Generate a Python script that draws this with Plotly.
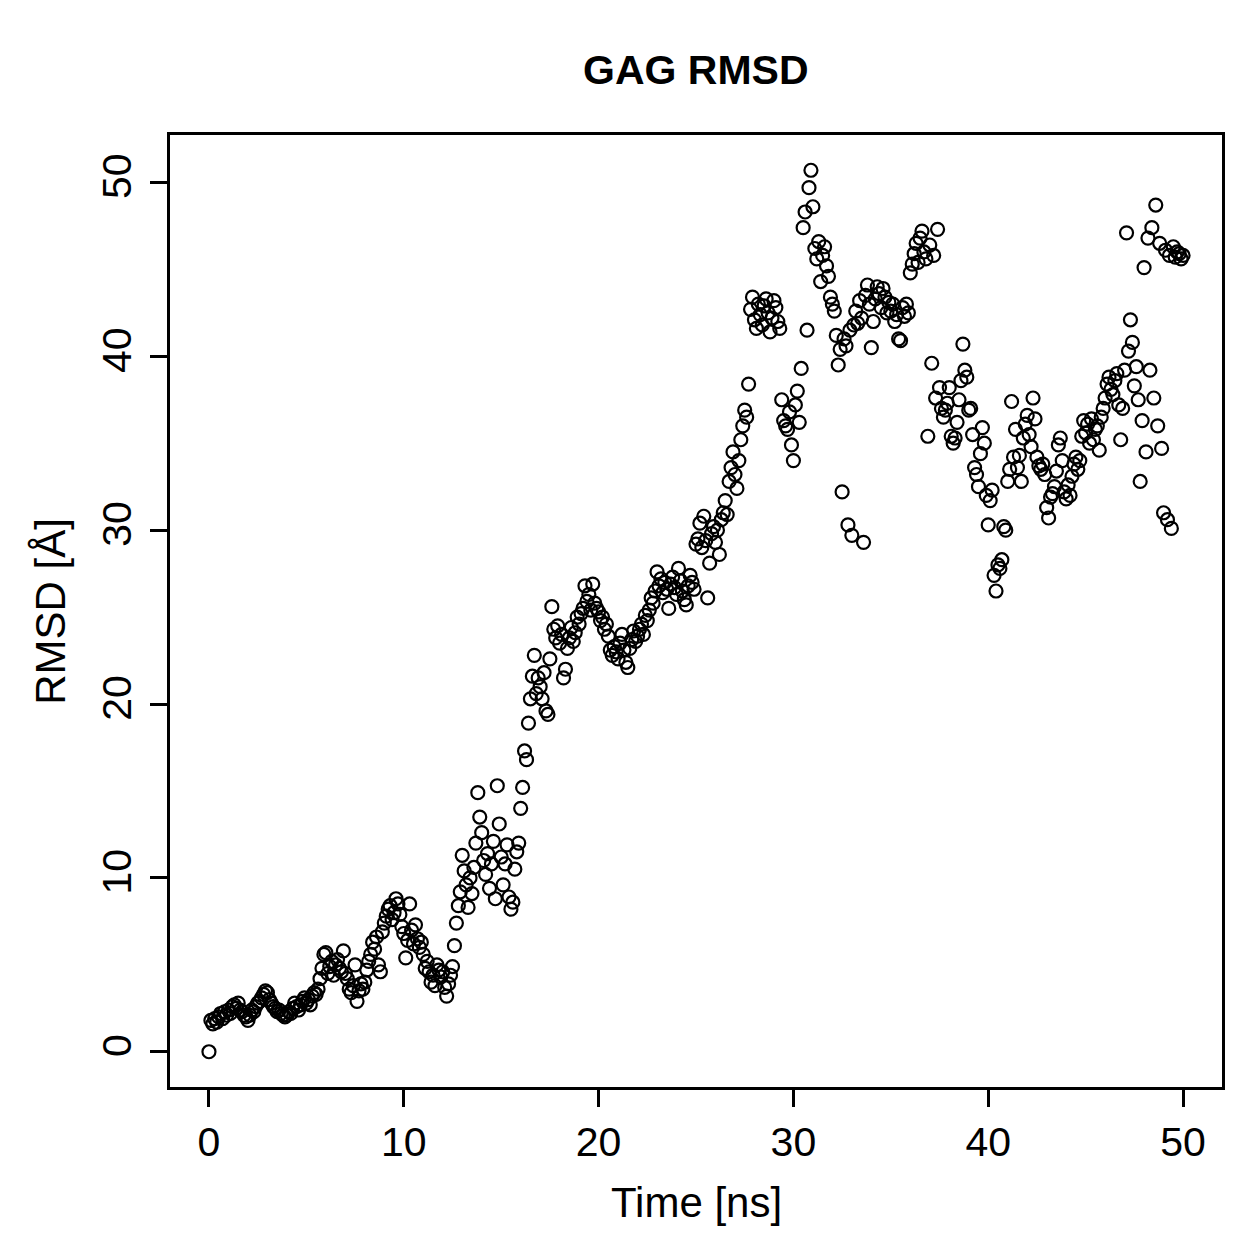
import plotly.graph_objects as go

# Sampling step (ns) and RMSD values (Å), one row per nanosecond
time_step_ns = 0.1
rmsd_rows = [
    [0.0, 1.8, 1.6, 1.9, 1.7, 2.0, 2.2, 1.9, 2.3, 2.1],
    [2.4, 2.2, 2.6, 2.7, 2.5, 2.8, 2.4, 2.3, 2.1, 2.0],
    [1.8, 2.1, 2.4, 2.3, 2.6, 2.8, 2.9, 3.1, 3.3, 3.5],
    [3.4, 3.0, 2.8, 2.6, 2.5, 2.3, 2.4, 2.2, 2.1, 2.0],
    [2.1, 2.3, 2.2, 2.5, 2.8, 2.6, 2.4, 2.7, 2.9, 3.1],
    [2.8, 3.0, 2.7, 3.2, 3.4, 3.3, 3.6, 4.2, 4.8, 5.6],
    [5.7, 4.5, 4.9, 5.2, 4.4, 5.0, 5.3, 4.8, 4.6, 5.8],
    [4.5, 4.2, 3.6, 3.4, 3.8, 5.0, 2.9, 3.5, 3.9, 3.6],
    [4.0, 4.7, 5.2, 5.6, 6.3, 5.9, 6.6, 5.0, 4.6, 6.9],
    [7.4, 7.8, 8.2, 8.4, 7.6, 8.0, 8.8, 8.5, 7.9, 7.2],
    [6.8, 5.4, 6.4, 8.5, 7.0, 6.2, 7.3, 6.5, 6.0, 6.3],
    [5.6, 4.8, 5.2, 4.6, 4.0, 4.4, 3.8, 5.0, 4.7, 4.3],
    [4.6, 3.7, 3.2, 3.9, 4.4, 4.9, 6.1, 7.4, 8.4, 9.2],
    [11.3, 10.4, 9.6, 8.3, 10.0, 9.1, 10.6, 12.0, 14.9, 13.5],
    [12.6, 11.0, 10.2, 11.4, 9.4, 10.8, 12.1, 8.8, 15.3, 13.1],
    [11.2, 9.6, 10.8, 11.9, 8.9, 8.2, 8.6, 10.5, 11.5, 12.0],
    [14.0, 15.2, 17.3, 16.8, 18.9, 20.3, 21.6, 22.8, 20.6, 21.5],
    [21.0, 20.3, 21.8, 19.6, 19.4, 22.6, 25.6, 24.3, 23.8, 24.5],
    [23.5, 24.0, 21.5, 22.0, 23.2, 23.8, 24.4, 23.6, 24.1, 25.0],
    [24.6, 25.2, 25.5, 26.8, 25.9, 26.3, 25.4, 26.9, 25.8, 25.5],
    [25.3, 24.8, 25.0, 24.3, 24.6, 23.9, 23.1, 22.8, 23.3, 23.0],
    [22.6, 23.5, 24.0, 23.1, 22.4, 22.1, 23.2, 23.7, 24.2, 23.6],
    [23.9, 24.3, 24.6, 24.0, 25.1, 24.8, 25.4, 26.1, 25.8, 26.5],
    [27.6, 26.8, 27.2, 26.4, 27.0, 26.6, 25.5, 26.9, 27.3, 26.7],
    [26.3, 27.8, 27.1, 26.5, 26.0, 25.7, 26.8, 27.4, 27.0, 26.6],
    [29.2, 29.5, 30.4, 29.0, 30.8, 29.4, 26.1, 28.1, 29.8, 30.2],
    [29.3, 30.0, 28.6, 30.6, 31.0, 31.7, 30.9, 32.8, 33.6, 34.5],
    [33.2, 32.4, 34.0, 35.2, 36.0, 36.9, 36.5, 38.4, 42.7, 43.4],
    [42.1, 41.6, 43.0, 42.4, 41.8, 42.9, 43.3, 42.5, 41.4, 42.2],
    [43.2, 42.8, 42.0, 41.6, 37.5, 36.3, 36.0, 35.8, 36.8, 34.9],
    [34.0, 37.2, 38.0, 36.2, 39.3, 47.4, 48.3, 41.5, 49.7, 50.7],
    [48.6, 46.2, 45.6, 46.6, 44.3, 45.8, 46.3, 45.2, 44.6, 43.4],
    [43.0, 42.6, 41.2, 39.5, 40.4, 32.2, 41.0, 40.6, 30.3, 41.5],
    [29.7, 41.8, 42.6, 41.9, 43.2, 42.2, 29.3, 43.5, 44.1, 43.0],
    [40.5, 42.0, 43.3, 44.0, 43.6, 42.8, 43.9, 43.4, 42.5, 43.1],
    [42.6, 43.0, 42.0, 42.4, 41.0, 40.9, 42.8, 42.3, 43.0, 42.5],
    [44.8, 45.3, 45.9, 46.5, 45.4, 46.8, 47.2, 46.0, 45.6, 35.4],
    [46.4, 39.6, 45.8, 37.6, 47.3, 38.2, 37.0, 36.5, 36.9, 37.3],
    [38.2, 35.4, 35.0, 35.3, 36.2, 37.5, 38.6, 40.7, 39.2, 38.8],
    [36.9, 37.0, 35.5, 33.6, 33.2, 32.5, 34.4, 35.9, 35.0, 32.0],
    [30.3, 31.7, 32.3, 27.4, 26.5, 28.0, 27.8, 28.3, 30.2, 30.0],
    [32.8, 33.5, 37.4, 34.2, 35.8, 33.6, 34.3, 32.8, 35.3, 36.1],
    [36.6, 35.5, 34.8, 37.6, 36.4, 34.2, 33.7, 33.5, 33.8, 33.2],
    [31.3, 30.7, 31.9, 32.1, 32.5, 33.4, 34.9, 35.3, 34.0, 32.2],
    [31.8, 32.6, 32.0, 33.1, 33.8, 34.2, 33.5, 34.0, 35.4, 36.3],
    [35.6, 36.1, 35.0, 36.4, 35.2, 35.8, 36.0, 34.6, 36.5, 37.0],
    [37.6, 38.4, 38.8, 38.1, 37.8, 38.6, 39.0, 37.2, 35.2, 37.0],
    [39.2, 47.1, 40.3, 42.1, 40.8, 38.3, 39.4, 37.5, 32.8, 36.3],
    [45.1, 34.5, 46.8, 39.2, 47.4, 37.6, 48.7, 36.0, 46.5, 34.7],
    [31.0, 46.1, 30.6, 45.8, 30.1, 46.3, 45.7, 46.0, 45.9, 45.6],
    [45.8],
]
x_ticks = [0, 10, 20, 30, 40, 50]
y_ticks = [0, 10, 20, 30, 40, 50]
title_text = "<b>GAG RMSD</b>"
x_label = "Time [ns]"
y_label = "RMSD [Å]"

rmsd = [v for row in rmsd_rows for v in row]
time_ns = [round(i * time_step_ns, 2) for i in range(len(rmsd))]

def r_range(vals):
    lo, hi = min(vals), max(vals)
    pad = 0.04 * (hi - lo)
    return [lo - pad, hi + pad]

FONT = "Liberation Sans, Arial, Helvetica, sans-serif"

fig = go.Figure(go.Scatter(
    x=time_ns, y=rmsd, mode="markers",
    marker=dict(symbol="circle-open", size=13, color="black",
                line=dict(color="black", width=2.2)),
    showlegend=False,
))

axis_common = dict(
    showgrid=False, zeroline=False, showline=True, mirror=True,
    linecolor="black", linewidth=3, ticks="outside", ticklen=17,
    tickwidth=3, tickcolor="black",
    tickfont=dict(family=FONT, size=41, color="black"),
)
fig.update_xaxes(range=r_range(time_ns), tickvals=x_ticks, **axis_common)
fig.update_yaxes(range=r_range(rmsd), tickvals=y_ticks, tickangle=-90,
                 ticklabelstandoff=3, **axis_common)

fig.update_layout(
    width=1259, height=1259,
    margin=dict(l=170, r=37, t=135, b=172),
    plot_bgcolor="white", paper_bgcolor="white",
    font=dict(family=FONT, color="black"),
    annotations=[
        dict(text=title_text, xref="paper", yref="paper", x=0.5, y=1.068,
             showarrow=False, xanchor="center", yanchor="middle",
             font=dict(family=FONT, size=41, color="black")),
        dict(text=x_label, xref="paper", yref="paper", x=0.5, y=-0.1218,
             showarrow=False, xanchor="center", yanchor="middle",
             font=dict(family=FONT, size=42, color="black")),
        dict(text=y_label, xref="paper", yref="paper", x=-0.1142, y=0.5,
             showarrow=False, xanchor="center", yanchor="middle", textangle=-90,
             font=dict(family=FONT, size=42, color="black")),
    ],
)

fig.write_html("out.html")
